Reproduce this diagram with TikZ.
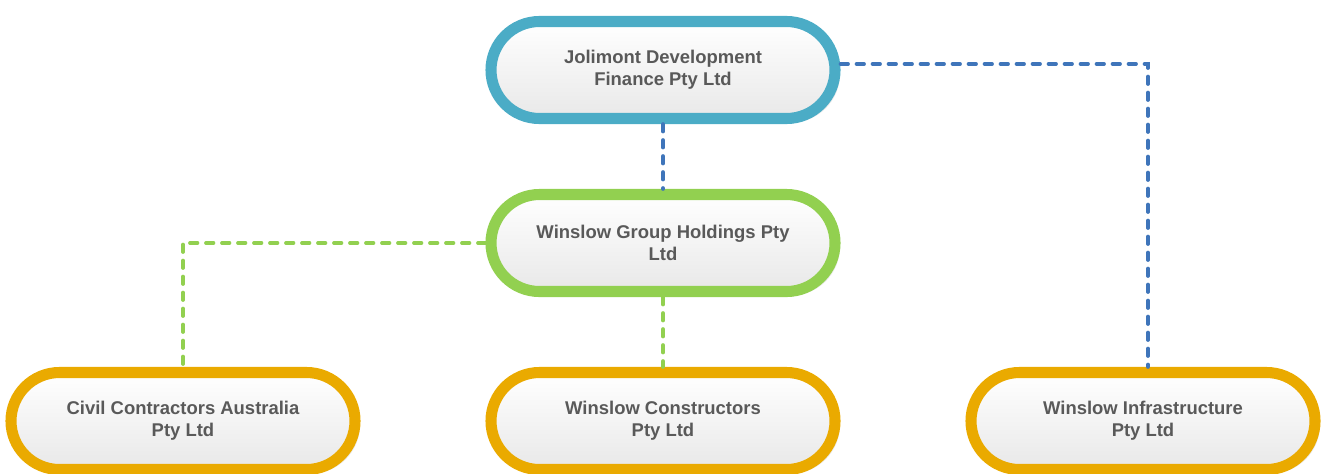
\documentclass[tikz,border=0pt]{standalone}
\usepackage{fontspec}
\setmainfont{Liberation Sans}
\usetikzlibrary{shapes,arrows,shadows}
\definecolor{pillblue}{HTML}{4BACC6}
\definecolor{pillgreen}{HTML}{92D050}
\definecolor{pillorange}{HTML}{EAAA00}
\definecolor{linkblue}{HTML}{3F75BA}
\definecolor{txtgray}{HTML}{595959}
\tikzstyle{r} = [rectangle, rounded corners=0.97cm, minimum width=6.88cm, minimum height=1.94cm, line width=6.3pt, align=center, text=txtgray, font=\bfseries\fontsize{10.5}{12.3}\selectfont, top color=white, bottom color=black!9, drop shadow={opacity=0.16, shadow xshift=0.1cm, shadow yshift=-0.08cm}]
\tikzstyle{link} = [line width=2.1pt, line cap=round, dash pattern=on 0.15cm off 0.17cm]

\begin{document}
\begin{tikzpicture}[node distance=3.46cm]
		\useasboundingbox (0,0) rectangle (26.42,-9.46);
		\node[r,draw=pillblue] at (13.26,-1.40) (1){Jolimont Development\\Finance Pty Ltd};
		\node[r,draw=pillgreen,below of=1](2){Winslow Group Holdings Pty\\Ltd};
		\node[r,draw=pillorange,below of=2,yshift=-0.1cm](4){Winslow Constructors\\Pty Ltd};
		\node[r,draw=pillorange,left of=4,xshift=-6.14cm](3){Civil Contractors Australia\\Pty Ltd};
		\node[r,draw=pillorange,right of=4,xshift=6.14cm](5){Winslow Infrastructure\\Pty Ltd};
		
		\draw[link,linkblue] (1)--(2);
		\draw[link,linkblue] ([yshift=0.12cm]1.east) -| ([xshift=0.1cm]5.north);
		\draw[link,pillgreen] (2)--(4);
		\draw[link,pillgreen] (2.west) -| (3.north);
		\end{tikzpicture}
\end{document}
